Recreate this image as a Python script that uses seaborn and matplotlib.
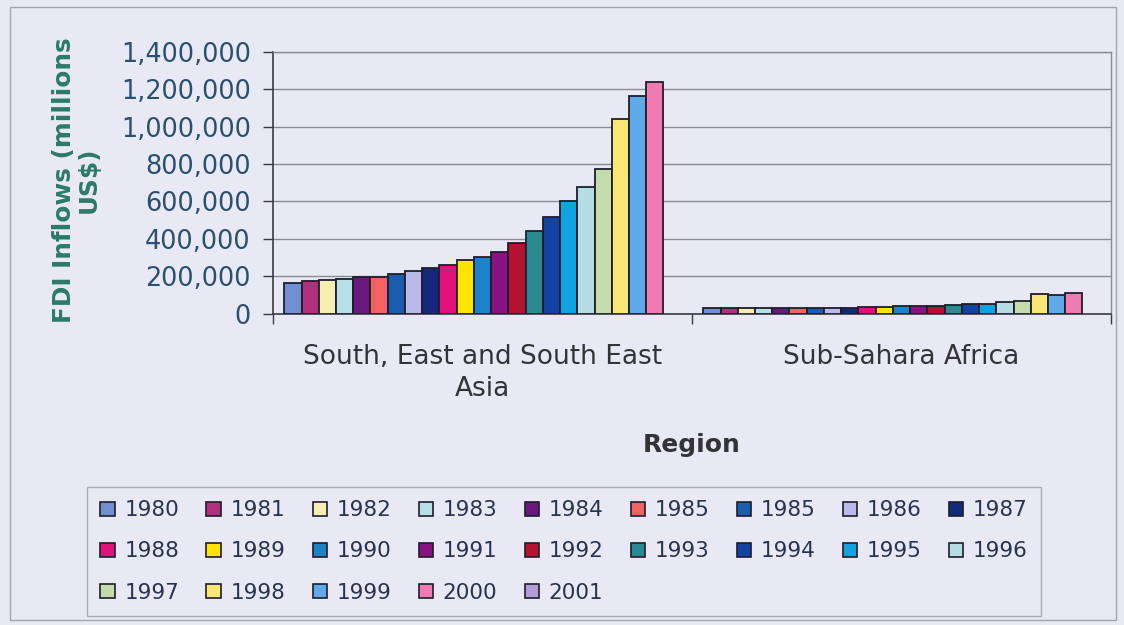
import numpy as np
import pandas as pd
import matplotlib
matplotlib.use("Agg")
import matplotlib.pyplot as plt
import seaborn as sns
from matplotlib.patches import Rectangle
from matplotlib.ticker import FuncFormatter, MultipleLocator, FixedLocator

# ---- data -------------------------------------------------------------
regions = ["South, East and South East\nAsia", "Sub-Sahara Africa"]
years = ["1980", "1981", "1982", "1983", "1984", "1985", "1985", "1986",
         "1987", "1988", "1989", "1990", "1991", "1992", "1993", "1994",
         "1995", "1996", "1997", "1998", "1999", "2000", "2001"]
asia = [164000, 173000, 180000, 184000, 195000, 194000, 209000, 229000,
        246000, 262000, 284000, 302000, 329000, 379000, 443000, 516000,
        602000, 677000, 773000, 1041000, 1164000, 1238000, np.nan]
africa = [28000, 28000, 29000, 29000, 29000, 30000, 30000, 31000,
          32000, 35000, 36000, 39000, 42000, 42000, 47000, 52000,
          50000, 60000, 66000, 104000, 97000, 112000, np.nan]
colors = ["#6f8fd0", "#b0307c", "#f6eeb2", "#b6e0e6", "#6a1a7c", "#f26262",
          "#1a5cae", "#b9b9ea", "#12287a", "#e2127c", "#ffe400", "#1c82ca",
          "#8a1282", "#b41232", "#2a8a92", "#1242a4", "#12a2e2", "#b6dee2",
          "#c2dcaa", "#fbe874", "#5caaea", "#f27ab2", "#b29cda"]

# ---- styling -----------------------------------------------------------
sns.set_theme(style="white")
plt.rcParams["font.family"] = ["DejaVu Sans"]
bg = "#e9e9f5"

keys = [f"s{i:02d}" for i in range(len(years))]
df = pd.DataFrame({
    "region": np.repeat(regions, len(years)),
    "series": keys * len(regions),
    "value": asia + africa,
})
palette = dict(zip(keys, colors))

fig = plt.figure(figsize=(11.24, 6.25), dpi=100, facecolor=bg)
ax = fig.add_axes([273 / 1124, 1 - 313.5 / 625, 838 / 1124, 261.5 / 625])
ax.set_facecolor(bg)

sns.barplot(data=df, x="region", y="value", hue="series", order=regions,
            hue_order=keys, palette=palette, width=0.946, gap=0,
            saturation=1, edgecolor="#1e1e2a", linewidth=1.3,
            errorbar=None, legend=False, ax=ax, zorder=3)

# y axis
ax.set_ylim(0, 1400000)
ax.yaxis.set_major_locator(MultipleLocator(200000))
ax.yaxis.set_major_formatter(FuncFormatter(lambda v, p: f"{v:,.0f}"))
ax.yaxis.grid(True, color="#8c8c98", lw=1, zorder=0)
ax.set_axisbelow(True)
ax.tick_params(axis="y", which="major", left=True, direction="out",
               length=7, width=1, color="#3a3a44", pad=9,
               labelsize=18.4, labelcolor="#29506e")

# x axis: labels at category centres, tick marks at category boundaries
ax.set_xlim(-0.5, 1.5)
ax.xaxis.set_minor_locator(FixedLocator([-0.5, 0.5, 1.5]))
ax.tick_params(axis="x", which="minor", bottom=True, direction="out",
               length=7, width=1, color="#3a3a44")
ax.tick_params(axis="x", which="major", bottom=True, length=0, pad=22,
               labelsize=19, labelcolor="#333338")
for lbl in ax.get_xticklabels():
    lbl.set_linespacing(1.3)

for side in ("top", "right"):
    ax.spines[side].set_color("#8a8a96")
    ax.spines[side].set_linewidth(1)
for side in ("left", "bottom"):
    ax.spines[side].set_color("#3a3a44")
    ax.spines[side].set_linewidth(1.2)

ax.set_xlabel("Region", fontsize=18, fontweight="bold", color="#333338")
ax.xaxis.label.set_va("center")
ax.xaxis.set_label_coords(0.5, -0.503)

ax.set_ylabel("FDI Inflows (millions\nUS$)", fontsize=17.8,
              fontweight="bold", color="#2b7a68", linespacing=1.05)
ax.yaxis.label.set_va("center")
ax.yaxis.set_label_coords(-0.235, 0.51)

# legend: row-wise reading order with 9 columns
ncol = 9
handles = [Rectangle((0, 0), 1, 1, facecolor=c, edgecolor="#1e1e2a", lw=1.2)
           for c in colors]
order = [r * ncol + c for c in range(ncol) for r in range(3)
         if r * ncol + c < len(years)]
leg = fig.legend([handles[i] for i in order], [years[i] for i in order],
                 ncol=ncol, loc="upper left",
                 bbox_to_anchor=(87 / 1124, 1 - 487 / 625),
                 bbox_transform=fig.transFigure, fontsize=15.5,
                 handlelength=0.66, handleheight=0.66, handletextpad=0.45,
                 columnspacing=1.27, labelspacing=0.98, borderpad=0.62,
                 borderaxespad=0, fancybox=False, frameon=True)
leg.get_frame().set_edgecolor("#9a9aa8")
leg.get_frame().set_facecolor(bg)
leg.get_frame().set_linewidth(1)
for t in leg.get_texts():
    t.set_color("#26344f")

# outer chart border
fig.patches.append(Rectangle((10 / 1124, 1 - 620 / 625), 1106 / 1124,
                             613 / 625, transform=fig.transFigure,
                             fill=False, edgecolor="#a4a4b0", lw=1))

fig.savefig("out.png", dpi=100, facecolor=bg)
